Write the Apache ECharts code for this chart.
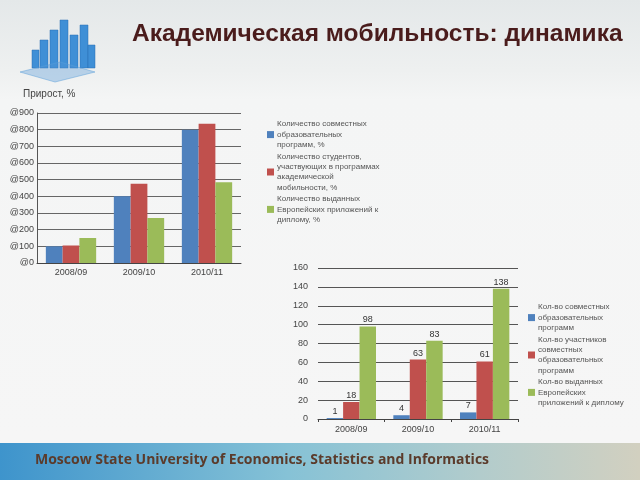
<!DOCTYPE html>
<html><head><meta charset="utf-8">
<script src="https://cdn.jsdelivr.net/npm/echarts@6/dist/echarts.min.js"></script>
<style>
html,body{margin:0;padding:0;width:640px;height:480px;overflow:hidden;
background:linear-gradient(to bottom,#e4e8e9 0px,#eef0f0 70px,#f4f5f5 100px,#f6f6f6 440px);}
#c{width:640px;height:480px;}
</style></head><body><div id="c"></div>
<script>
// Chart 1 (Прирост, %)
const cats1 = ['2008/09','2009/10','2010/11'];
const names1 = ['Количество совместных\nобразовательных\nпрограмм, %',
 'Количество студентов,\nучаствующих в программах\nакадемической\nмобильности, %',
 'Количество выданных\nЕвропейских приложений к\nдиплому, %'];
const progs1 = [100, 400, 800];
const students1 = [105, 475, 835];
const diplomas1 = [150, 270, 485];
const yTicks1 = [0,100,200,300,400,500,600,700,800,900];

// Chart 2 (absolute)
const cats2 = ['2008/09','2009/10','2010/11'];
const names2 = ['Кол-во совместных\nобразовательных\nпрограмм',
 'Кол-во участников\nсовместных\nобразовательных\nпрограмм',
 'Кол-во выданных\nЕвропейских\nприложений к диплому'];
const progs2 = [1, 4, 7];
const students2 = [18, 63, 61];
const diplomas2 = [98, 83, 138];

const colors = ['#4F81BD','#C0504D','#9BBB59'];
const font = 'Liberation Sans, Arial, sans-serif';

const chart = echarts.init(document.getElementById('c'), null, {renderer:'canvas'});

function bar(name, data, xi, c, labels){
  return {type:'bar', name, data, xAxisIndex:xi, yAxisIndex:xi, barGap:'0%', barCategoryGap:'26%',
    itemStyle:{color:c}, label: labels ? {show:true, position:'top', fontSize:9, color:'#333', fontFamily:font, distance:2} : {show:false}};
}

// logo blocks
const logo = [];
const blocks = [[40,40,8,28],[50,30,8,38],[60,20,8,48],[70,35,8,33],[80,25,8,43],[88,45,7,23],[32,50,7,18]];
blocks.forEach(b=>{logo.push({type:'rect',shape:{x:b[0],y:b[1],width:b[2],height:b[3]},style:{fill:'#3f8fd6',stroke:'#2a6fb0',lineWidth:0.5}});});
logo.push({type:'polygon',shape:{points:[[20,72],[55,82],[95,72],[60,62]]},style:{fill:'rgba(80,150,215,0.35)',stroke:'#5a9fd8',lineWidth:0.5}});

const legText = {fontSize:8, lineHeight:10.4, color:'#555', fontFamily:font, padding:[0,0,0,-2]};

chart.setOption({
  backgroundColor:'transparent',
  animation:false,
  textStyle:{fontFamily:font},
  title:[{text:'Академическая мобильность: динамика', left:127, top:17,
    textStyle:{fontSize:24.5, fontWeight:'bold', color:'#4a1c1c', fontFamily:font}},
    {text:'Прирост, %', left:18, top:84, textStyle:{fontSize:10, fontWeight:'normal', color:'#444', fontFamily:font}}],
  graphic:[
    {type:'rect', shape:{x:0,y:443,width:640,height:37}, z:-1,
     style:{fill:new echarts.graphic.LinearGradient(0,0,1,0,[{offset:0,color:'#3e94cc'},{offset:0.45,color:'#86c2d6'},{offset:0.75,color:'#b2cccc'},{offset:1,color:'#d2d0c0'}])}},
    {type:'text', left:35, top:453, style:{text:'Moscow State University of Economics, Statistics and Informatics',
      font:'bold 14px "Open Sans", sans-serif', fill:'#5b3b2b'}},
    ...logo
  ],
  legend:[
    {data:names1, icon:'rect', orient:'vertical', left:262, top:114, itemWidth:7, itemHeight:7, itemGap:1, textStyle:legText},
    {data:names2, icon:'rect', orient:'vertical', left:523, top:297, itemWidth:7, itemHeight:7, itemGap:1, textStyle:legText}
  ],
  grid:[
    {left:37, top:113, width:204, height:150},
    {left:318, top:268, width:200, height:151}
  ],
  xAxis:[
    {type:'category', data:cats1, gridIndex:0, axisLine:{lineStyle:{color:'#444'}}, axisTick:{show:false},
     axisLabel:{fontSize:9, color:'#444', margin:5}},
    {type:'category', data:cats2, gridIndex:1, axisLine:{lineStyle:{color:'#444'}}, axisTick:{show:true, length:3, lineStyle:{color:'#444'}},
     axisLabel:{fontSize:9, color:'#444', margin:6}}
  ],
  yAxis:[
    {type:'value', gridIndex:0, min:yTicks1[0], max:yTicks1[yTicks1.length-1], interval:100,
     axisLine:{show:true, lineStyle:{color:'#555'}}, axisTick:{show:false},
     axisLabel:{fontSize:9, color:'#444', margin:3, formatter:v=>'@'+v},
     splitLine:{lineStyle:{color:'#666'}}},
    {type:'value', gridIndex:1, min:0, max:160, interval:20,
     axisLine:{show:false}, axisTick:{show:false},
     axisLabel:{fontSize:9, color:'#444', margin:10},
     splitLine:{lineStyle:{color:'#555'}}}
  ],
  series:[
    bar(names1[0], progs1, 0, colors[0], false),
    bar(names1[1], students1, 0, colors[1], false),
    bar(names1[2], diplomas1, 0, colors[2], false),
    bar(names2[0], progs2, 1, colors[0], true),
    bar(names2[1], students2, 1, colors[1], true),
    bar(names2[2], diplomas2, 1, colors[2], true)
  ]
});
</script></body></html>
